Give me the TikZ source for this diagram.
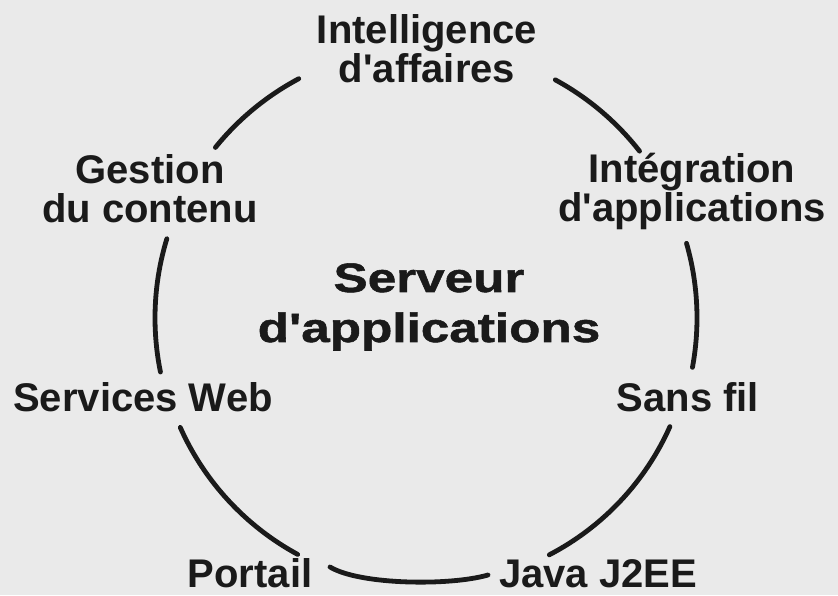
\documentclass[tikz,border=0pt]{standalone}
\usepackage{fontspec}
\newfontfamily\lblfont{Liberation Sans}
\newfontfamily\ctrfont{Liberation Sans}[FakeStretch=1.25, FakeBold=1.3]
\definecolor{bg}{RGB}{234,234,234}
\definecolor{ink}{RGB}{26,26,26}
\tikzset{
  lbl/.style={font=\lblfont\bfseries\fontsize{40}{39}\selectfont, inner sep=0pt, anchor=base, align=center, text=ink},
  ctr/.style={font=\ctrfont\bfseries\fontsize{41}{50}\selectfont, inner sep=0pt, anchor=base, align=center, text=ink},
  ring/.style={draw=ink, line width=4.8pt, line cap=round},
}
\begin{document}
\begin{tikzpicture}[x=1pt,y=1pt]
\fill[bg] (0,0) rectangle (838,595);
\useasboundingbox (0,0) rectangle (838,595);
\coordinate (c) at (426,277);
% labels (base anchor = baseline of last line)
\node[lbl] (intel) at (427,512) {Intelligence\\d'affaires};
\node[lbl] (gest) at (150,372) {Gestion\\du contenu};
\node[lbl] (integ) at (692,373) {Intégration\\d'applications};
\node[ctr] (serv) at (429,253) {Serveur\\d'applications};
\node[lbl] (web) at (143,183) {Services Web};
\node[lbl] (sans) at (688,183) {Sans fil};
\node[lbl] (port) at (250,8) {Portail};
\node[lbl] (java) at (598,8) {Java J2EE};
% ring arcs
\draw[ring] ([shift={(118:271pt)}]c) arc[start angle=118, end angle=141, radius=271pt];
\draw[ring] ([shift={(61.5:271pt)}]c) arc[start angle=61.5, end angle=38, radius=271pt];
\draw[ring] ([shift={(163:271pt)}]c) arc[start angle=163, end angle=191.5, radius=271pt];
\draw[ring] ([shift={(16:271pt)}]c) arc[start angle=16, end angle=-10.5, radius=271pt];
\draw[ring] ([shift={(204:269pt)}]c) arc[start angle=204, end angle=241.5, radius=269pt];
\draw[ring] ([shift={(-24:267pt)}]c) arc[start angle=-24, end angle=-62.5, radius=267pt];
\coordinate (p1) at (330,28);
\coordinate (p2) at (488,20);
\draw[ring] (p1) .. controls (360,10) and (450,9) .. (p2);
\end{tikzpicture}
\end{document}
